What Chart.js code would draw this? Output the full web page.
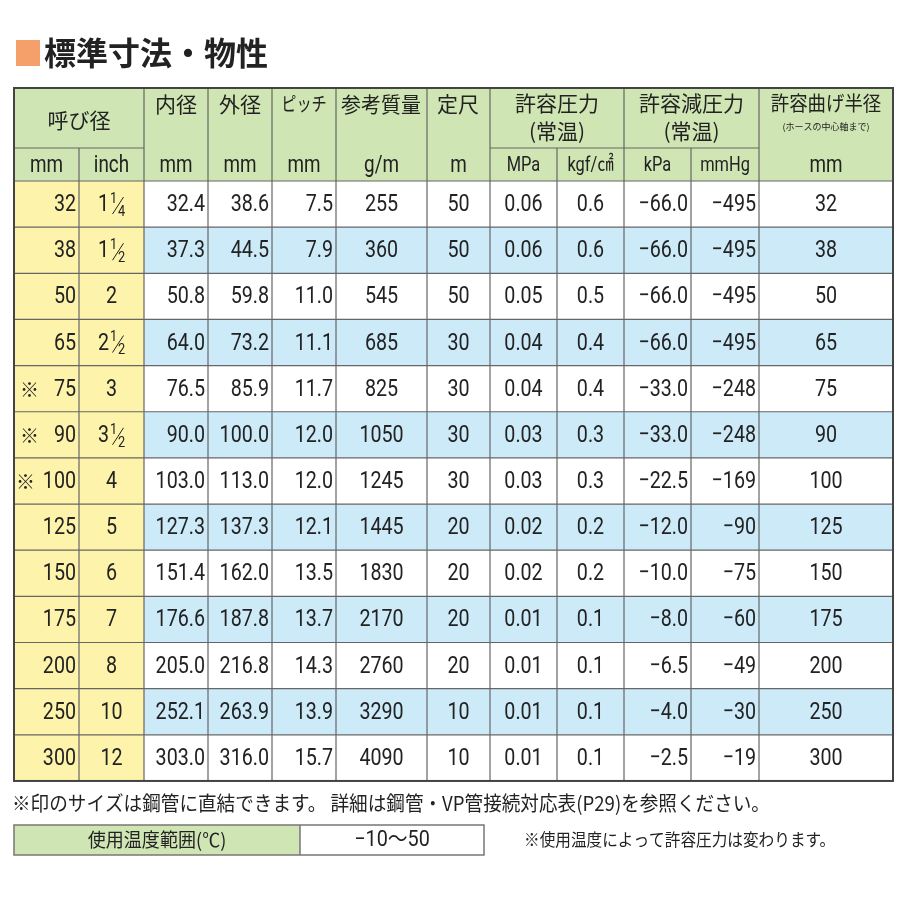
<!DOCTYPE html>
<html><head><meta charset="utf-8">
<script src="https://cdn.jsdelivr.net/npm/chart.js@4"></script>
<style>html,body{margin:0;background:#fff}#c{display:block}</style>
</head><body>
<div style="width:900px;height:900px"><canvas id="c" width="900" height="900"></canvas></div>
<script>
const title = "標準寸法・物性";
const sizeMm = ["32","38","50","65","※ 75","※ 90","※ 100","125","150","175","200","250","300"];
const sizeInch = ["1 1/4","1 1/2","2","2 1/2","3","3 1/2","4","5","6","7","8","10","12"];
const innerD = ["32.4","37.3","50.8","64.0","76.5","90.0","103.0","127.3","151.4","176.6","205.0","252.1","303.0"];
const outerD = ["38.6","44.5","59.8","73.2","85.9","100.0","113.0","137.3","162.0","187.8","216.8","263.9","316.0"];
const pitch = ["7.5","7.9","11.0","11.1","11.7","12.0","12.0","12.1","13.5","13.7","14.3","13.9","15.7"];
const mass = ["255","360","545","685","825","1050","1245","1445","1830","2170","2760","3290","4090"];
const lengthM = ["50","50","50","30","30","30","30","20","20","20","20","10","10"];
const mpa = ["0.06","0.06","0.05","0.04","0.04","0.03","0.03","0.02","0.02","0.01","0.01","0.01","0.01"];
const kgf = ["0.6","0.6","0.5","0.4","0.4","0.3","0.3","0.2","0.2","0.1","0.1","0.1","0.1"];
const kpa = ["−66.0","−66.0","−66.0","−66.0","−33.0","−33.0","−22.5","−12.0","−10.0","−8.0","−6.5","−4.0","−2.5"];
const mmhg = ["−495","−495","−495","−495","−248","−248","−169","−90","−75","−60","−49","−30","−19"];
const bend = ["32","38","50","65","75","90","100","125","150","175","200","250","300"];
const blueRows = [1,3,5,7,9,11];
const units = ["mm","inch","mm","mm","mm","g/m","m","MPa","kgf/㎠","kPa","mmHg","mm"];
const noteLine = "※印のサイズは鋼管に直結できます。 詳細は鋼管・VP管接続対応表(P29)を参照ください。";
const tempLabel = "使用温度範囲(℃)";
const tempValue = "−10～50";
const tempNote = "※使用温度によって許容圧力は変わります。";

const colX = [14,79,144,208,272,336,427,490,557,624,691,759,893];
const rowY0 = 181, rowH = 46.15, hdrTop = 88, hdrMid = 148;
const cols = [sizeMm,sizeInch,innerD,outerD,pitch,mass,lengthM,mpa,kgf,kpa,mmhg,bend];
const align = ["right","center","right","right","right","center","center","center","center","right","right","center"];

const JP = '"Noto Sans CJK JP"';
const NUM = 'Roboto,' + JP;
const points = [];
cols.forEach((c,ci)=>c.forEach((v,ri)=>points.push({x:(colX[ci]+colX[ci+1])/2,y:rowY0+rowH*(ri+0.5)})));

const tablePlugin = {
  id:'table',
  afterDatasetsDraw(chart){
    const ctx = chart.ctx, sx = chart.scales.x, sy = chart.scales.y;
    const X = v=>sx.getPixelForValue(v), Y = v=>sy.getPixelForValue(v);
    const rowTop = r=>Y(rowY0+rowH*r);
    // condensed text
    const ct=(t,px,py,sc)=>{ctx.save();ctx.translate(px,py);ctx.scale(sc,1);ctx.fillText(t,0,0);ctx.restore();};
    ctx.save();
    ctx.fillStyle="#f5a06a"; ctx.fillRect(X(16),Y(40),X(40)-X(16),Y(66)-Y(40));
    ctx.fillStyle="#222"; ctx.font="bold 32px "+JP; ctx.textBaseline="middle"; ctx.textAlign="left";
    ctx.fillText(title,X(44),Y(53));
    ctx.fillStyle="#cfe5b3"; ctx.fillRect(X(14),Y(hdrTop),X(893)-X(14),Y(rowY0)-Y(hdrTop));
    for(let r=0;r<13;r++){
      ctx.fillStyle=blueRows.includes(r)?"#cdeaf8":"#ffffff";
      ctx.fillRect(X(colX[2]),rowTop(r),X(893)-X(colX[2]),rowTop(r+1)-rowTop(r));
    }
    ctx.fillStyle="#fdf3aa"; ctx.fillRect(X(14),rowTop(0),X(colX[2])-X(14),rowTop(13)-rowTop(0));
    ctx.strokeStyle="#666"; ctx.lineWidth=1.2;
    const line=(x1,y1,x2,y2)=>{ctx.beginPath();ctx.moveTo(X(x1),Y(y1));ctx.lineTo(X(x2),Y(y2));ctx.stroke();};
    for(let r=0;r<=13;r++) line(14,rowY0+rowH*r,893,rowY0+rowH*r);
    line(14,hdrMid,colX[2],hdrMid); line(colX[7],hdrMid,colX[11],hdrMid);
    colX.forEach((cx,i)=>{
      let top = hdrTop;
      if(i===1||i===8||i===10) top=hdrMid;
      line(cx,top,cx,rowY0+rowH*13);
    });
    ctx.lineWidth=2; ctx.strokeStyle="#444";
    ctx.strokeRect(X(14),Y(hdrTop),X(893)-X(14),rowTop(13)-Y(hdrTop));
    ctx.fillStyle="#222"; ctx.textAlign="center";
    const ht=(t,x,y,f,sc)=>{ctx.font=f;ct(t,X(x),Y(y),sc||1);};
    const HF="21px "+JP;
    ht("呼び径",(14+144)/2,120,HF);
    ht("内径",176,104,HF); ht("外径",240,104,HF); ht("ピッチ",304,104,"19px "+JP,0.8);
    ht("参考質量",381,104,HF,0.95); ht("定尺",458,104,HF);
    ht("許容圧力",(490+624)/2,103,HF); ht("(常温)",(490+624)/2,131,HF);
    ht("許容減圧力",(624+759)/2,103,HF); ht("(常温)",(624+759)/2,131,HF);
    ht("許容曲げ半径",826,103,"20px "+JP,0.92); ht("(ホースの中心軸まで)",826,127,"9px "+JP);
    units.forEach((u,i)=>ht(u,(colX[i]+colX[i+1])/2,166,(i>=7&&i<=10?"20px ":"23px ")+NUM,0.82));
    cols.forEach((c,ci)=>c.forEach((v,ri)=>{
      const cy=rowY0+rowH*(ri+0.5)+1;
      ctx.font="24px "+NUM; ctx.fillStyle="#222";
      if(ci===1 && v.includes(" ")){
        const [w,fr]=v.split(" "); const [a,b]=fr.split("/");
        const cx=(colX[1]+colX[2])/2-8;
        ctx.textAlign="center"; ct(w,X(cx),Y(cy),0.82);
        ctx.font="15px "+NUM; ct(a,X(cx+10),Y(cy-6),0.85); ct(b,X(cx+18),Y(cy+7),0.85);
        ctx.strokeStyle="#222"; ctx.lineWidth=1; ctx.beginPath(); ctx.moveTo(X(cx+20),Y(cy-8)); ctx.lineTo(X(cx+9),Y(cy+9)); ctx.stroke();
        return;
      }
      ctx.textAlign=align[ci];
      let x = align[ci]==="right"?colX[ci+1]-3:(colX[ci]+colX[ci+1])/2;
      if(ci===0 && v.startsWith("※")){
        const n=v.replace(/※\s*/,"");
        ctx.textAlign="left"; ctx.font="19px "+JP; ctx.fillText("※",X(colX[0]+(n.length>2?2:6)),Y(cy));
        ctx.textAlign="right"; ctx.font="24px "+NUM; ct(n,X(x),Y(cy),0.82); return;
      }
      ct(v,X(x),Y(cy),0.82);
    }));
    ctx.textAlign="left"; ctx.font="20px "+JP; ctx.fillStyle="#222";
    ct(noteLine,X(12),Y(803),0.93);
    ctx.fillStyle="#cfe5b3"; ctx.fillRect(X(14),Y(825),X(300)-X(14),Y(855)-Y(825));
    ctx.strokeStyle="#777"; ctx.lineWidth=1.5;
    ctx.strokeRect(X(14),Y(825),X(484)-X(14),Y(855)-Y(825)); line(300,825,300,855);
    ctx.fillStyle="#222"; ctx.textAlign="center";
    ctx.font="19px "+JP; ct(tempLabel,X(157),Y(840),0.95);
    ctx.font="22px "+NUM; ct(tempValue,X(392),Y(840),0.9);
    ctx.textAlign="left"; ctx.font="17px "+JP; ct(tempNote,X(524),Y(840),0.92);
    ctx.restore();
  }
};

new Chart(document.getElementById('c'),{
  type:'scatter',
  data:{datasets:[{data:points,pointRadius:0}]},
  options:{responsive:false,animation:false,
    layout:{padding:0},
    plugins:{legend:{display:false},tooltip:{enabled:false}},
    scales:{x:{type:'linear',min:0,max:900,display:false},
            y:{type:'linear',min:0,max:900,reverse:true,display:false}}},
  plugins:[tablePlugin]
});
</script>
</body></html>
